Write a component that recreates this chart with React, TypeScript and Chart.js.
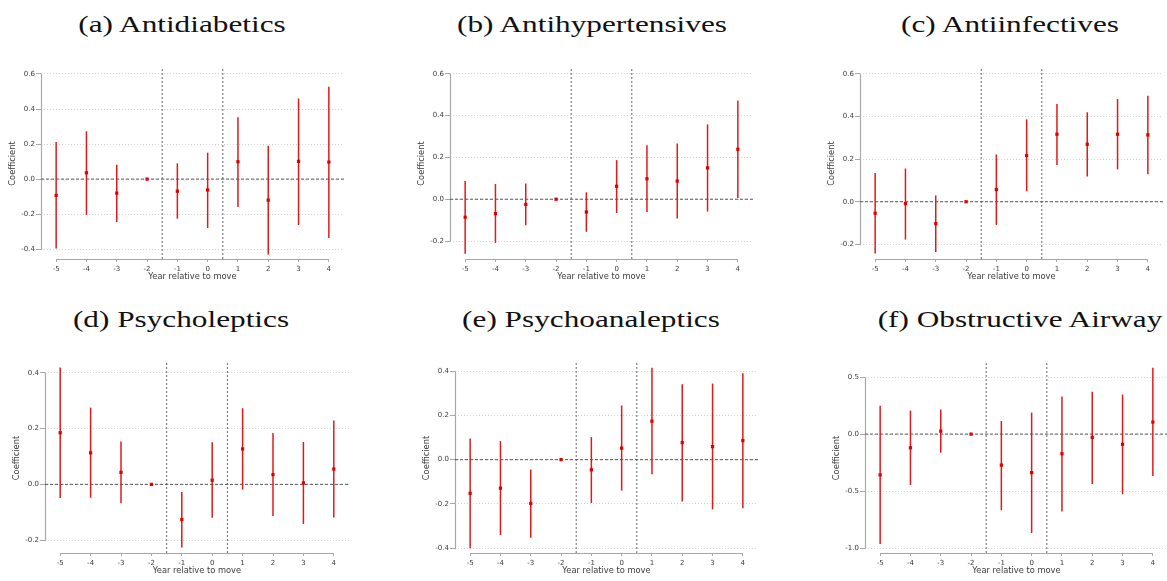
import { useEffect, useRef } from 'react'
import { Chart, registerables } from 'chart.js'

Chart.register(...registerables)

// Event-study years and the two reference lines between them
const years = [-5, -4, -3, -2, -1, 0, 1, 2, 3, 4]
const eventLines = [-1.5, 0.5]

// (a) Antidiabetics
const antidiabeticsCoef = [-0.093, 0.036, -0.080, 0, -0.069, -0.062, 0.099, -0.120, 0.101, 0.097]
const antidiabeticsLow = [-0.396, -0.204, -0.245, 0, -0.226, -0.279, -0.159, -0.430, -0.262, -0.336]
const antidiabeticsHigh = [0.211, 0.273, 0.082, 0, 0.090, 0.151, 0.353, 0.191, 0.460, 0.527]
const antidiabeticsTicks = [-0.4, -0.2, 0, 0.2, 0.4, 0.6]

// (b) Antihypertensives
const antihypertensivesCoef = [-0.086, -0.069, -0.025, 0, -0.061, 0.062, 0.098, 0.087, 0.150, 0.239]
const antihypertensivesLow = [-0.261, -0.209, -0.125, 0, -0.156, -0.066, -0.061, -0.092, -0.059, 0.006]
const antihypertensivesHigh = [0.087, 0.073, 0.075, 0, 0.033, 0.187, 0.258, 0.267, 0.358, 0.472]
const antihypertensivesTicks = [-0.2, 0, 0.2, 0.4, 0.6]

// (c) Antiinfectives
const antiinfectivesCoef = [-0.054, -0.009, -0.103, 0, 0.057, 0.217, 0.317, 0.270, 0.317, 0.314]
const antiinfectivesLow = [-0.243, -0.178, -0.236, 0, -0.109, 0.049, 0.173, 0.118, 0.152, 0.129]
const antiinfectivesHigh = [0.135, 0.156, 0.029, 0, 0.222, 0.387, 0.459, 0.420, 0.482, 0.498]
const antiinfectivesTicks = [-0.2, 0, 0.2, 0.4, 0.6]

// (d) Psycholeptics
const psycholepticsCoef = [0.185, 0.113, 0.043, 0, -0.126, 0.015, 0.127, 0.035, 0.005, 0.055]
const psycholepticsLow = [-0.049, -0.048, -0.068, 0, -0.226, -0.120, -0.019, -0.113, -0.142, -0.119]
const psycholepticsHigh = [0.419, 0.275, 0.154, 0, -0.027, 0.151, 0.273, 0.184, 0.152, 0.229]
const psycholepticsTicks = [-0.2, 0, 0.2, 0.4]

// (e) Psychoanaleptics
const psychoanalepticsCoef = [-0.152, -0.129, -0.198, 0, -0.046, 0.052, 0.174, 0.077, 0.059, 0.086]
const psychoanalepticsLow = [-0.400, -0.341, -0.353, 0, -0.196, -0.140, -0.066, -0.189, -0.225, -0.220]
const psychoanalepticsHigh = [0.096, 0.084, -0.044, 0, 0.102, 0.245, 0.415, 0.341, 0.344, 0.391]
const psychoanalepticsTicks = [-0.4, -0.2, 0, 0.2, 0.4]

// (f) Obstructive Airway
const airwayCoef = [-0.358, -0.120, 0.026, 0, -0.272, -0.338, -0.172, -0.029, -0.089, 0.106]
const airwayLow = [-0.963, -0.447, -0.163, 0, -0.668, -0.868, -0.679, -0.438, -0.527, -0.367]
const airwayHigh = [0.249, 0.206, 0.215, 0, 0.115, 0.189, 0.330, 0.372, 0.347, 0.582]
const airwayTicks = [-1.0, -0.5, 0, 0.5]

const AXIS_W = 40
const AXIS_H = 30
const RED = '#e01a1a'
const TEXT = '#3a3a3a'
const AXIS = '#a8a8a8'
const SANS = "'DejaVu Sans', sans-serif"

type PanelProps = {
  title: string
  titleX: number
  baseline: number
  left: number
  right: number
  top: number
  bottom: number
  yMin: number
  yMax: number
  yTicks: number[]
  coef: number[]
  low: number[]
  high: number[]
}

// draws the Stata-like axis lines, which span only the tick range
const axisLines = {
  id: 'axisLines',
  beforeDatasetsDraw(chart: any) {
    const { ctx, scales, chartArea } = chart
    const x = scales.x
    const y = scales.y
    const yt = y.ticks.map((t: any) => t.value)
    const xt = x.ticks.map((t: any) => t.value)
    ctx.save()
    ctx.strokeStyle = AXIS
    ctx.lineWidth = 1.2
    ctx.beginPath()
    const ax = Math.round(chartArea.left) + 0.5
    ctx.moveTo(ax, y.getPixelForValue(Math.max(...yt)))
    ctx.lineTo(ax, y.getPixelForValue(Math.min(...yt)) + 1)
    const ay = Math.round(chartArea.bottom) + 0.5
    ctx.moveTo(x.getPixelForValue(Math.min(...xt)), ay)
    ctx.lineTo(x.getPixelForValue(Math.max(...xt)), ay)
    ctx.stroke()
    ctx.restore()
  },
}

function Panel(p: PanelProps) {
  const canvasRef = useRef<HTMLCanvasElement>(null)
  const chartRef = useRef<Chart | null>(null)

  const cLeft = Math.round(p.left - AXIS_W)
  const cTop = Math.round(p.top)
  const cWidth = Math.round(p.right - p.left + AXIS_W)
  const cHeight = Math.round(p.bottom - p.top + AXIS_H)

  useEffect(() => {
    if (!canvasRef.current) return
    if (chartRef.current) chartRef.current.destroy()

    chartRef.current = new Chart(canvasRef.current, {
      type: 'bar',
      data: {
        datasets: [
          {
            type: 'scatter',
            data: years.map((x, i) => ({ x, y: p.coef[i] })),
            pointStyle: 'rect',
            pointRadius: 2.3,
            backgroundColor: '#e00000',
            borderColor: '#e00000',
            borderWidth: 0,
            order: 1,
          } as any,
          {
            type: 'bar',
            data: years.map((x, i) => ({ x, y: [p.low[i], p.high[i]] })),
            backgroundColor: RED,
            barThickness: 1.5,
            inflateAmount: 0,
            order: 2,
          } as any,
          {
            type: 'line',
            data: [{ x: -5.5, y: 0 }, { x: 4.5, y: 0 }],
            borderColor: '#555',
            borderWidth: 1,
            borderDash: [3, 2],
            pointRadius: 0,
            order: 3,
          } as any,
          ...eventLines.map((v) => ({
            type: 'line',
            data: [{ x: v, y: p.yMin }, { x: v, y: p.yMax }],
            borderColor: '#666',
            borderWidth: 1,
            borderDash: [2, 2],
            pointRadius: 0,
            order: 3,
          } as any)),
        ],
      },
      options: {
        responsive: true,
        maintainAspectRatio: false,
        animation: false,
        layout: { padding: 0 },
        plugins: {
          legend: { display: false },
          tooltip: { enabled: false },
        },
        scales: {
          x: {
            type: 'linear',
            min: -5.5,
            max: 4.5,
            offset: false,
            afterBuildTicks: (s: any) => {
              s.ticks = years.map((v) => ({ value: v }))
            },
            afterFit: (s: any) => {
              s.height = AXIS_H
              s.paddingLeft = 0
              s.paddingRight = 0
            },
            grid: {
              display: true,
              drawOnChartArea: false,
              drawTicks: true,
              tickLength: 3,
              tickColor: AXIS,
              tickBorderDash: [],
              offset: false,
            },
            border: { display: false },
            ticks: {
              color: TEXT,
              font: { family: SANS, size: 7 },
              padding: 3,
              maxRotation: 0,
              autoSkip: false,
              callback: (v: any) => String(v),
            },
            title: {
              display: true,
              text: 'Year relative to move',
              color: TEXT,
              font: { family: SANS, size: 8.3 },
              padding: { top: 0, bottom: 7 },
            },
          },
          y: {
            type: 'linear',
            min: p.yMin,
            max: p.yMax,
            afterBuildTicks: (s: any) => {
              s.ticks = p.yTicks.map((v) => ({ value: v }))
            },
            afterFit: (s: any) => {
              s.width = AXIS_W
              s.paddingTop = 0
              s.paddingBottom = 0
            },
            grid: {
              color: '#d2d2d2',
              lineWidth: 1,
              tickLength: 5,
              tickColor: AXIS,
              tickBorderDash: [],
            },
            border: { display: false, dash: [1, 2] },
            ticks: {
              color: TEXT,
              font: { family: SANS, size: 7 },
              padding: 1,
              callback: (v: any) => Number(v).toFixed(1),
            },
            title: {
              display: true,
              text: 'Coefficient',
              color: TEXT,
              font: { family: SANS, size: 8.3 },
              padding: { top: 7, bottom: 0 },
            },
          },
        },
      },
      plugins: [axisLines],
    })

    return () => {
      if (chartRef.current) {
        chartRef.current.destroy()
        chartRef.current = null
      }
    }
  }, [p])

  return (
    <>
      <div
        style={{
          position: 'absolute',
          left: p.titleX,
          top: p.baseline - 20,
          fontFamily: "'Liberation Serif', serif",
          fontSize: 23.5,
          lineHeight: '24px',
          whiteSpace: 'nowrap',
          color: '#111',
          transform: 'translateX(-50%) scaleX(1.33)',
        }}
      >
        {p.title}
      </div>
      <div style={{ position: 'absolute', left: cLeft, top: cTop, width: cWidth, height: cHeight }}>
        <canvas ref={canvasRef}></canvas>
      </div>
    </>
  )
}

const panels: PanelProps[] = [
  {
    title: '(a) Antidiabetics', titleX: 182, baseline: 31.7,
    left: 40.7, right: 347.3, top: 64, bottom: 259, yMin: -0.456, yMax: 0.634,
    yTicks: antidiabeticsTicks, coef: antidiabeticsCoef, low: antidiabeticsLow, high: antidiabeticsHigh,
  },
  {
    title: '(b) Antihypertensives', titleX: 592, baseline: 31.7,
    left: 450.3, right: 757, top: 64, bottom: 259, yMin: -0.286, yMax: 0.628,
    yTicks: antihypertensivesTicks, coef: antihypertensivesCoef, low: antihypertensivesLow, high: antihypertensivesHigh,
  },
  {
    title: '(c) Antiinfectives', titleX: 1010, baseline: 31.7,
    left: 860, right: 1167, top: 64, bottom: 259, yMin: -0.269, yMax: 0.628,
    yTicks: antiinfectivesTicks, coef: antiinfectivesCoef, low: antiinfectivesLow, high: antiinfectivesHigh,
  },
  {
    title: '(d) Psycholeptics', titleX: 181, baseline: 326.7,
    left: 44.9, right: 352.4, top: 359.3, bottom: 553.3, yMin: -0.246, yMax: 0.435,
    yTicks: psycholepticsTicks, coef: psycholepticsCoef, low: psycholepticsLow, high: psycholepticsHigh,
  },
  {
    title: '(e) Psychoanaleptics', titleX: 591, baseline: 326.7,
    left: 454.6, right: 762, top: 359.3, bottom: 553.3, yMin: -0.422, yMax: 0.437,
    yTicks: psychoanalepticsTicks, coef: psychoanalepticsCoef, low: psychoanalepticsLow, high: psychoanalepticsHigh,
  },
  {
    title: '(f) Obstructive Airway', titleX: 1020, baseline: 326.7,
    left: 864.6, right: 1172, top: 359.3, bottom: 553.3, yMin: -1.043, yMax: 0.624,
    yTicks: airwayTicks, coef: airwayCoef, low: airwayLow, high: airwayHigh,
  },
]

export default function App() {
  return (
    <div
      style={{
        position: 'fixed',
        left: 0,
        top: 0,
        width: 1167,
        height: 581,
        overflow: 'hidden',
        background: '#fff',
      }}
    >
      {panels.map((p) => (
        <Panel key={p.title} {...p} />
      ))}
    </div>
  )
}
